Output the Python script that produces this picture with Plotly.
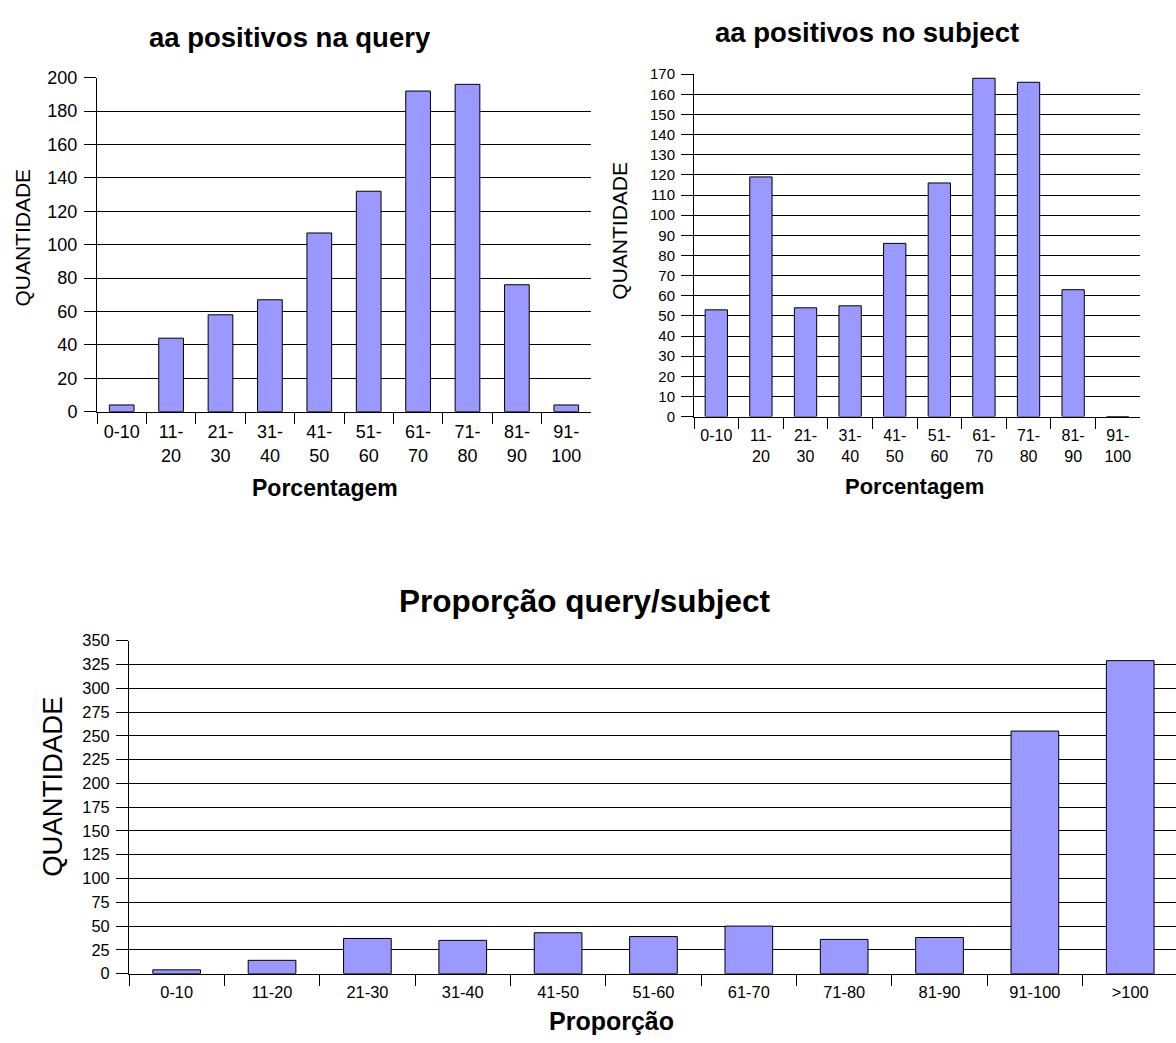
import plotly.graph_objects as go

# Category labels
faixas = ["0-10", "11-20", "21-30", "31-40", "41-50", "51-60",
          "61-70", "71-80", "81-90", "91-100"]
faixas_quebradas = ["0-10", "11-<br>20", "21-<br>30", "31-<br>40", "41-<br>50",
                    "51-<br>60", "61-<br>70", "71-<br>80", "81-<br>90", "91-<br>100"]
faixas_proporcao = ["0-10", "11-20", "21-30", "31-40", "41-50", "51-60",
                    "61-70", "71-80", "81-90", "91-100", ">100"]

# Counts per bin
positivos_query = [4, 44, 58, 67, 107, 132, 192, 196, 76, 4]
positivos_subject = [53, 119, 54, 55, 86, 116, 168, 166, 63, 0]
proporcao_query_subject = [4, 14, 37, 35, 43, 39, 50, 36, 38, 255, 329]

W, H = 1176, 1043
FONT = "Arial, Liberation Sans, sans-serif"
BAR_FILL = "#9999FF"


def px(x):
    return x / W


def py(y):
    return 1 - y / H


fig = go.Figure()

bar_style = dict(marker=dict(color=BAR_FILL, line=dict(color="#000000", width=1)),
                 showlegend=False, hoverinfo="x+y")

fig.add_trace(go.Bar(x=faixas, y=positivos_query, xaxis="x", yaxis="y", **bar_style))
fig.add_trace(go.Bar(x=faixas, y=positivos_subject, xaxis="x2", yaxis="y2", **bar_style))
fig.add_trace(go.Bar(x=faixas_proporcao, y=proporcao_query_subject, xaxis="x3", yaxis="y3", **bar_style))


def xaxis_cfg(domain, cats, texts, rng, size, anchor):
    return dict(domain=domain, anchor=anchor, type="category", categoryorder="array",
                categoryarray=cats, tickmode="array", tickvals=cats, ticktext=texts,
                range=rng, tickson="boundaries", ticks="outside", ticklen=11,
                tickcolor="#000000", tickwidth=1, showline=True, linecolor="#000000",
                linewidth=1, showgrid=False, zeroline=False,
                tickfont=dict(family=FONT, size=size, color="#000000"),
                ticklabelstandoff=4, fixedrange=True)


def yaxis_cfg(domain, top, step, size, anchor):
    return dict(domain=domain, anchor=anchor, range=[0, top], dtick=step, tick0=0,
                ticks="outside", ticklen=12, tickcolor="#000000", tickwidth=1,
                showline=True, linecolor="#000000", linewidth=1,
                showgrid=True, gridcolor="#000000", gridwidth=1, zeroline=False,
                tickfont=dict(family=FONT, size=size, color="#000000"),
                ticklabelstandoff=3, fixedrange=True)


fig.update_layout(
    width=W, height=H,
    margin=dict(l=0, r=0, t=0, b=0),
    paper_bgcolor="#FFFFFF", plot_bgcolor="#FFFFFF",
    bargap=0.5,
    font=dict(family=FONT, color="#000000"),
    xaxis=xaxis_cfg([px(97), px(590.5)], faixas, faixas_quebradas, [-0.5, 9.49], 18, "y"),
    yaxis=yaxis_cfg([py(409.5), py(69)], 200, 20, 18, "x"),
    xaxis2=xaxis_cfg([px(694), px(1139.6)], faixas, faixas_quebradas, [-0.5, 9.49], 16, "y2"),
    yaxis2=yaxis_cfg([py(414.5), py(65.5)], 170, 10, 15, "x2"),
    xaxis3=xaxis_cfg([px(129), 1.0], faixas_proporcao, faixas_proporcao, [-0.5, 10.48], 16.4, "y3"),
    yaxis3=yaxis_cfg([py(982.5), py(643)], 350, 25, 16.4, "x3"),
)


def label(text, x, y, size, bold=False, angle=0):
    fig.add_annotation(
        text=f"<b>{text}</b>" if bold else text,
        x=px(x), y=py(y), xref="paper", yref="paper",
        xanchor="center", yanchor="middle", showarrow=False, textangle=angle,
        font=dict(family=FONT, size=size, color="#000000"),
    )


# Titles
label("aa positivos na query", 290, 28, 27.5, bold=True)
label("aa positivos no subject", 867, 23, 27.5, bold=True)
label("Proporção query/subject", 585, 603, 31.5, bold=True)

# Axis titles
label("Porcentagem", 325, 487, 23, bold=True)
label("Porcentagem", 915, 486, 22, bold=True)
label("Proporção", 611, 1031, 25, bold=True)
label("QUANTIDADE", 23, 232, 21, angle=-90)
label("QUANTIDADE", 620, 225, 21, angle=-90)
label("QUANTIDADE", 53, 792, 27.5, angle=-90)

fig.write_html("out.html")
